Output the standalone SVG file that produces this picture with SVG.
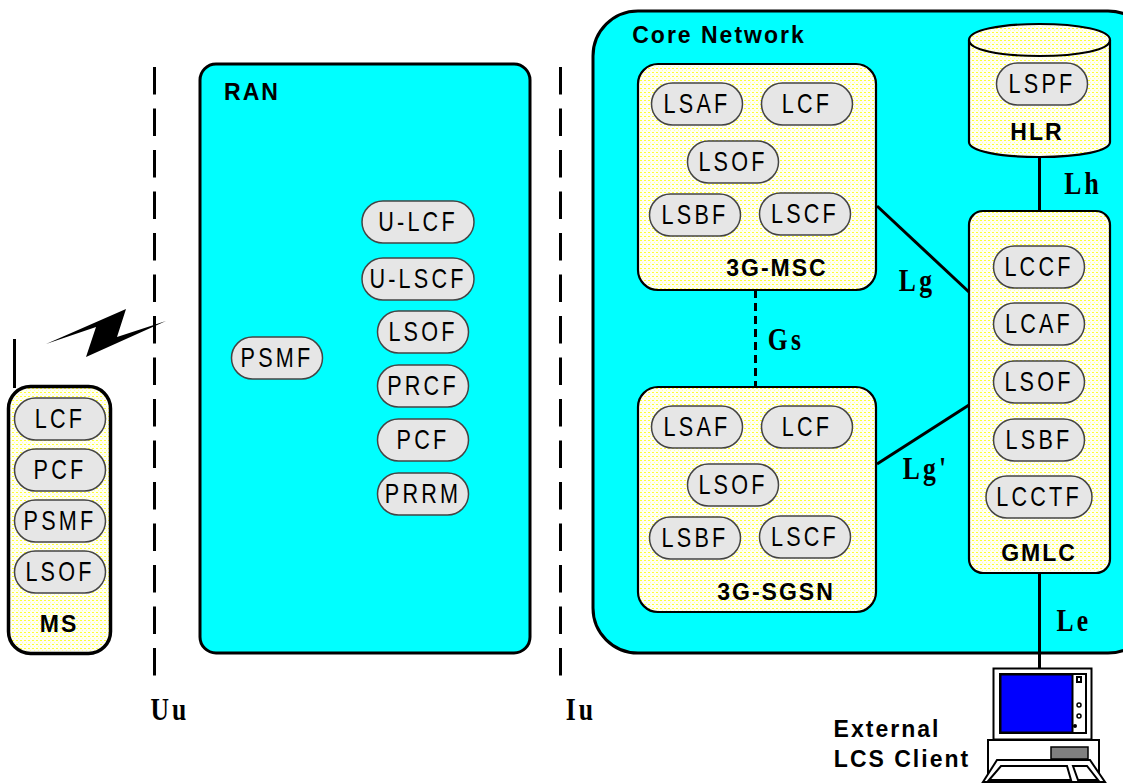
<svg xmlns="http://www.w3.org/2000/svg" width="1123" height="783" viewBox="0 0 1123 783">
<style>
.cy{fill:#00ffff;stroke:#000;stroke-width:3}
.ye{fill:url(#dots);stroke:#000;stroke-width:2.200}
.p{fill:#e6e6e6;stroke:#444;stroke-width:1.500}
.t{font-family:"Liberation Sans",Arial,sans-serif;font-size:27px;letter-spacing:4px;text-anchor:middle;fill:#000;transform:scaleX(.8)}
.b{font-family:"Liberation Sans",Arial,sans-serif;font-size:23px;font-weight:bold;letter-spacing:2px;text-anchor:middle;fill:#000}
.s{font-family:"Liberation Serif","Times New Roman",serif;font-size:32px;font-weight:bold;letter-spacing:4px;text-anchor:middle;fill:#000}
.c{fill:none;stroke:#000;stroke-width:3}
</style>
<defs>
<pattern id="dots" width="4" height="4" patternUnits="userSpaceOnUse"><rect width="4" height="4" fill="#fffff4"/><rect width="2" height="1" fill="#ffff33"/><rect x="2" y="2" width="1" height="1" fill="#ffffaa"/></pattern>
<rect id="pill" x="-45.500" y="-21" width="91" height="42" rx="21" class="p"/>
</defs>
<g id="interface-lines" fill="none" stroke="#000" stroke-width="3" stroke-dasharray="27.500 14">
<path d="M154.500 67V676"/>
<path d="M560.500 67V676"/>
</g>
<rect id="ran-bg" x="200" y="64" width="330" height="589" rx="16" class="cy"/>
<rect id="core-bg" x="593" y="11" width="560" height="642" rx="45" class="cy"/>
<text x="252" y="100" class="b">RAN</text>
<text x="719" y="43" class="b">Core Network</text>
<g id="connectors" class="c">
<path d="M877 206L969 292"/>
<path d="M877 464L969 405"/>
<path d="M755.500 290V387" stroke-dasharray="8 5"/>
<path d="M1039.500 157V211"/>
<path d="M1039.500 573V669"/>
<path d="M14.500 339V388"/>
<polygon points="46,344 126,309 117,337 166,321 86,357 96,327" fill="#000" stroke="none"/>
</g>
<g id="MS">
<rect x="8.500" y="386.500" width="102" height="267" rx="22" class="ye" style="stroke-width:3.500"/>
<g transform="translate(60,419)"><use href="#pill"/><text y="9" class="t">LCF</text></g>
<g transform="translate(60,470)"><use href="#pill"/><text y="9" class="t">PCF</text></g>
<g transform="translate(60,521)"><use href="#pill"/><text y="9" class="t">PSMF</text></g>
<g transform="translate(60,572)"><use href="#pill"/><text y="9" class="t">LSOF</text></g>
<text x="59" y="632" class="b">MS</text>
</g>
<g id="RAN">
<g transform="translate(277,358)"><use href="#pill"/><text y="9" class="t">PSMF</text></g>
<g transform="translate(418,222)"><rect x="-56" y="-21" width="112" height="42" rx="21" class="p"/><text y="9" class="t">U-LCF</text></g>
<g transform="translate(418,279)"><rect x="-56" y="-21" width="112" height="42" rx="21" class="p"/><text y="9" class="t">U-LSCF</text></g>
<g transform="translate(423,332)"><use href="#pill"/><text y="9" class="t">LSOF</text></g>
<g transform="translate(423,386)"><use href="#pill"/><text y="9" class="t">PRCF</text></g>
<g transform="translate(423,440)"><use href="#pill"/><text y="9" class="t">PCF</text></g>
<g transform="translate(423,494)"><use href="#pill"/><text y="9" class="t">PRRM</text></g>
</g>
<g id="MSC">
<rect x="638" y="64" width="238" height="226" rx="20" class="ye"/>
<g transform="translate(697,104)"><use href="#pill"/><text y="9" class="t">LSAF</text></g>
<g transform="translate(807,104)"><use href="#pill"/><text y="9" class="t">LCF</text></g>
<g transform="translate(733,162)"><use href="#pill"/><text y="9" class="t">LSOF</text></g>
<g transform="translate(695,215)"><use href="#pill"/><text y="9" class="t">LSBF</text></g>
<g transform="translate(805,214)"><use href="#pill"/><text y="9" class="t">LSCF</text></g>
<text x="777" y="276" class="b">3G-MSC</text>
</g>
<g id="SGSN">
<rect x="638" y="387" width="238" height="225" rx="20" class="ye"/>
<g transform="translate(697,427)"><use href="#pill"/><text y="9" class="t">LSAF</text></g>
<g transform="translate(807,427)"><use href="#pill"/><text y="9" class="t">LCF</text></g>
<g transform="translate(733,485)"><use href="#pill"/><text y="9" class="t">LSOF</text></g>
<g transform="translate(695,538)"><use href="#pill"/><text y="9" class="t">LSBF</text></g>
<g transform="translate(805,537)"><use href="#pill"/><text y="9" class="t">LSCF</text></g>
<text x="776" y="600" class="b">3G-SGSN</text>
</g>
<g id="GMLC">
<rect x="969" y="211" width="141" height="362" rx="14" class="ye"/>
<g transform="translate(1039,267)"><use href="#pill"/><text y="9" class="t">LCCF</text></g>
<g transform="translate(1039,324)"><use href="#pill"/><text y="9" class="t">LCAF</text></g>
<g transform="translate(1039,382)"><use href="#pill"/><text y="9" class="t">LSOF</text></g>
<g transform="translate(1039,440)"><use href="#pill"/><text y="9" class="t">LSBF</text></g>
<g transform="translate(1039,497)"><rect x="-53" y="-21" width="106" height="42" rx="21" class="p"/><text y="9" class="t">LCCTF</text></g>
<text x="1039" y="561" class="b">GMLC</text>
</g>
<g id="HLR">
<path d="M969 40C969 30 1000 24 1039.500 24S1110 30 1110 40V142C1110 151 1080 157 1039.500 157S969 151 969 142Z" class="ye"/>
<path d="M969 40C969 50 1000 56 1039.500 56S1110 50 1110 40" class="c" style="stroke-width:2.200"/>
<g transform="translate(1042,84)"><use href="#pill"/><text y="9" class="t">LSPF</text></g>
<text x="1037" y="140" class="b">HLR</text>
</g>
<g id="client">
<rect x="993.500" y="668.500" width="98" height="71" fill="#fff" stroke="#000" stroke-width="2"/>
<rect x="1000" y="674" width="86" height="59" fill="#fff" stroke="#000" stroke-width="2"/>
<rect x="1000.500" y="674.500" width="72" height="58" fill="#0000ff" stroke="#000" stroke-width="2"/>
<rect x="1077" y="677" width="4" height="5" fill="#fff" stroke="#000" stroke-width="2"/>
<circle cx="1079" cy="705" r="2" fill="#fff" stroke="#000" stroke-width="1.500"/>
<circle cx="1079" cy="716" r="2" fill="#fff" stroke="#000" stroke-width="1.500"/>
<circle cx="1075" cy="726" r="2" fill="#000"/>
<rect x="988" y="740" width="111" height="50" fill="#fff" stroke="#000" stroke-width="2"/>
<rect x="1051" y="747" width="37" height="12" fill="#808080" stroke="#000" stroke-width="1.500"/>
<polygon points="997,760 1090,760 1105,782 983,782" fill="#fff" stroke="#000" stroke-width="2"/>
<polygon points="1001,766 1067,766 1071,780 989,780" fill="#fff" stroke="#000" stroke-width="2"/>
<polygon points="1073,766 1087,766 1098,780 1078,780" fill="#fff" stroke="#000" stroke-width="2"/>
</g>
<g id="labels">
<text transform="translate(917,291) scale(.8,1)" class="s">Lg</text>
<text transform="translate(786,350) scale(.8,1)" class="s">Gs</text>
<text transform="translate(926,479) scale(.8,1)" class="s">Lg'</text>
<text transform="translate(1083,194) scale(.8,1)" class="s">Lh</text>
<text transform="translate(1074,631) scale(.8,1)" class="s">Le</text>
<text transform="translate(170,720) scale(.8,1)" class="s">Uu</text>
<text transform="translate(581,720) scale(.8,1)" class="s">Iu</text>
<text x="887" y="737" class="b">External</text>
<text x="902" y="767" class="b">LCS Client</text>
</g>
</svg>
